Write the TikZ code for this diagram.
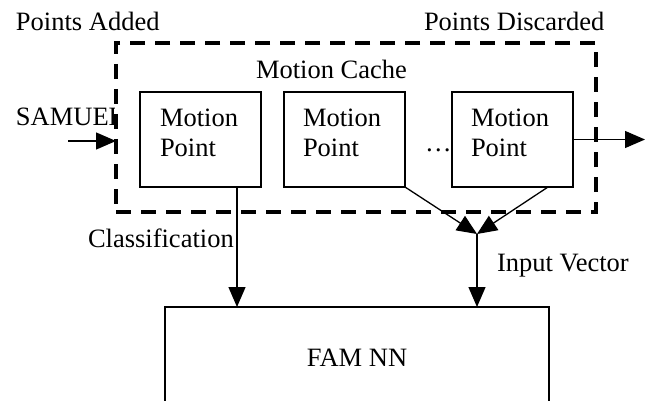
\documentclass[tikz,border=0pt]{standalone}
\usepackage{fontspec}
\setmainfont{Liberation Serif}
\usetikzlibrary{arrows.meta,calc}
\newcommand\figfont{\fontsize{26.5}{30}\selectfont}
\tikzset{
  lbl/.style={font=\figfont, inner sep=0pt, outer sep=0pt, anchor=base west},
  mpbox/.style={draw, line width=1.3pt, minimum width=121pt, minimum height=95pt,
                inner sep=0pt, outer sep=0pt, anchor=north west},
  mptext/.style={lbl, align=left, anchor=north west, text height=18pt},
  cachebox/.style={draw, line width=3.4pt, dash pattern=on 15pt off 10pt,
                   minimum width=480pt, minimum height=169pt,
                   inner sep=0pt, outer sep=0pt, anchor=north west},
  fambox/.style={draw, line width=1.3pt, minimum width=384pt, minimum height=102.4pt,
                 font=\figfont, inner sep=0pt, outer sep=0pt, anchor=north west},
  arr/.style={line width=1.3pt, -{Triangle[length=20pt,width=17pt]}},
}
\begin{document}
\begin{tikzpicture}[x=1pt, y=-1pt]
  \useasboundingbox[fill=white] (0,0) rectangle (645,401);

  % motion cache with its stored points
  \node[cachebox] (cache) at (116,43) {};
  \node[mpbox] (p1) at (140,92) {};
  \node[mpbox] (p2) at (284,92) {};
  \node[mpbox] (p3) at (452,92) {};
  % the reference line of a two-line node is its last line
  \node[mptext] (t1) at (160,139) {Motion\\Point};
  \node[mptext] (t2) at (303,139) {Motion\\Point};
  \node[mptext] (t3) at (471,139) {Motion\\Point};
  \node[lbl] (dots) at (425,152) {…};

  % classifier, running past the bottom edge
  \node[fambox] (fam) at (165,307) {FAM NN};

  % labels
  \node[lbl] (added) at (16,31) {Points Added};
  \node[lbl] (discarded) at (424,31) {Points Discarded};
  \node[lbl] (title) at (256,79) {Motion Cache};
  \begin{scope}
    \clip (0,100) rectangle (114,135);
    \node[lbl] (samuel) at (16,126) {SAMUEL};
  \end{scope}
  \node[lbl] (cls) at (88,247) {Classification};
  \node[lbl] (inv) at (497,271) {Input Vector};

  % connectors
  \coordinate (src) at (68,141);
  \draw[arr] (src) -- (src -| cache.west);
  \coordinate (sink) at (645,139.5);
  \draw[arr] (p3.east) -- (sink);
  \coordinate (c1) at ($(p1.south west)+(97,0)$);
  \draw[arr] (c1) -- (c1 |- fam.north);
  \coordinate (mv) at (477,234);
  \coordinate (c3) at ($(p3.south west)+(96,0)$);
  \draw[arr] (p2.south east) -- (mv);
  \draw[arr] (c3) -- (mv);
  \draw[arr] (mv) -- (mv |- fam.north);
\end{tikzpicture}
\end{document}
